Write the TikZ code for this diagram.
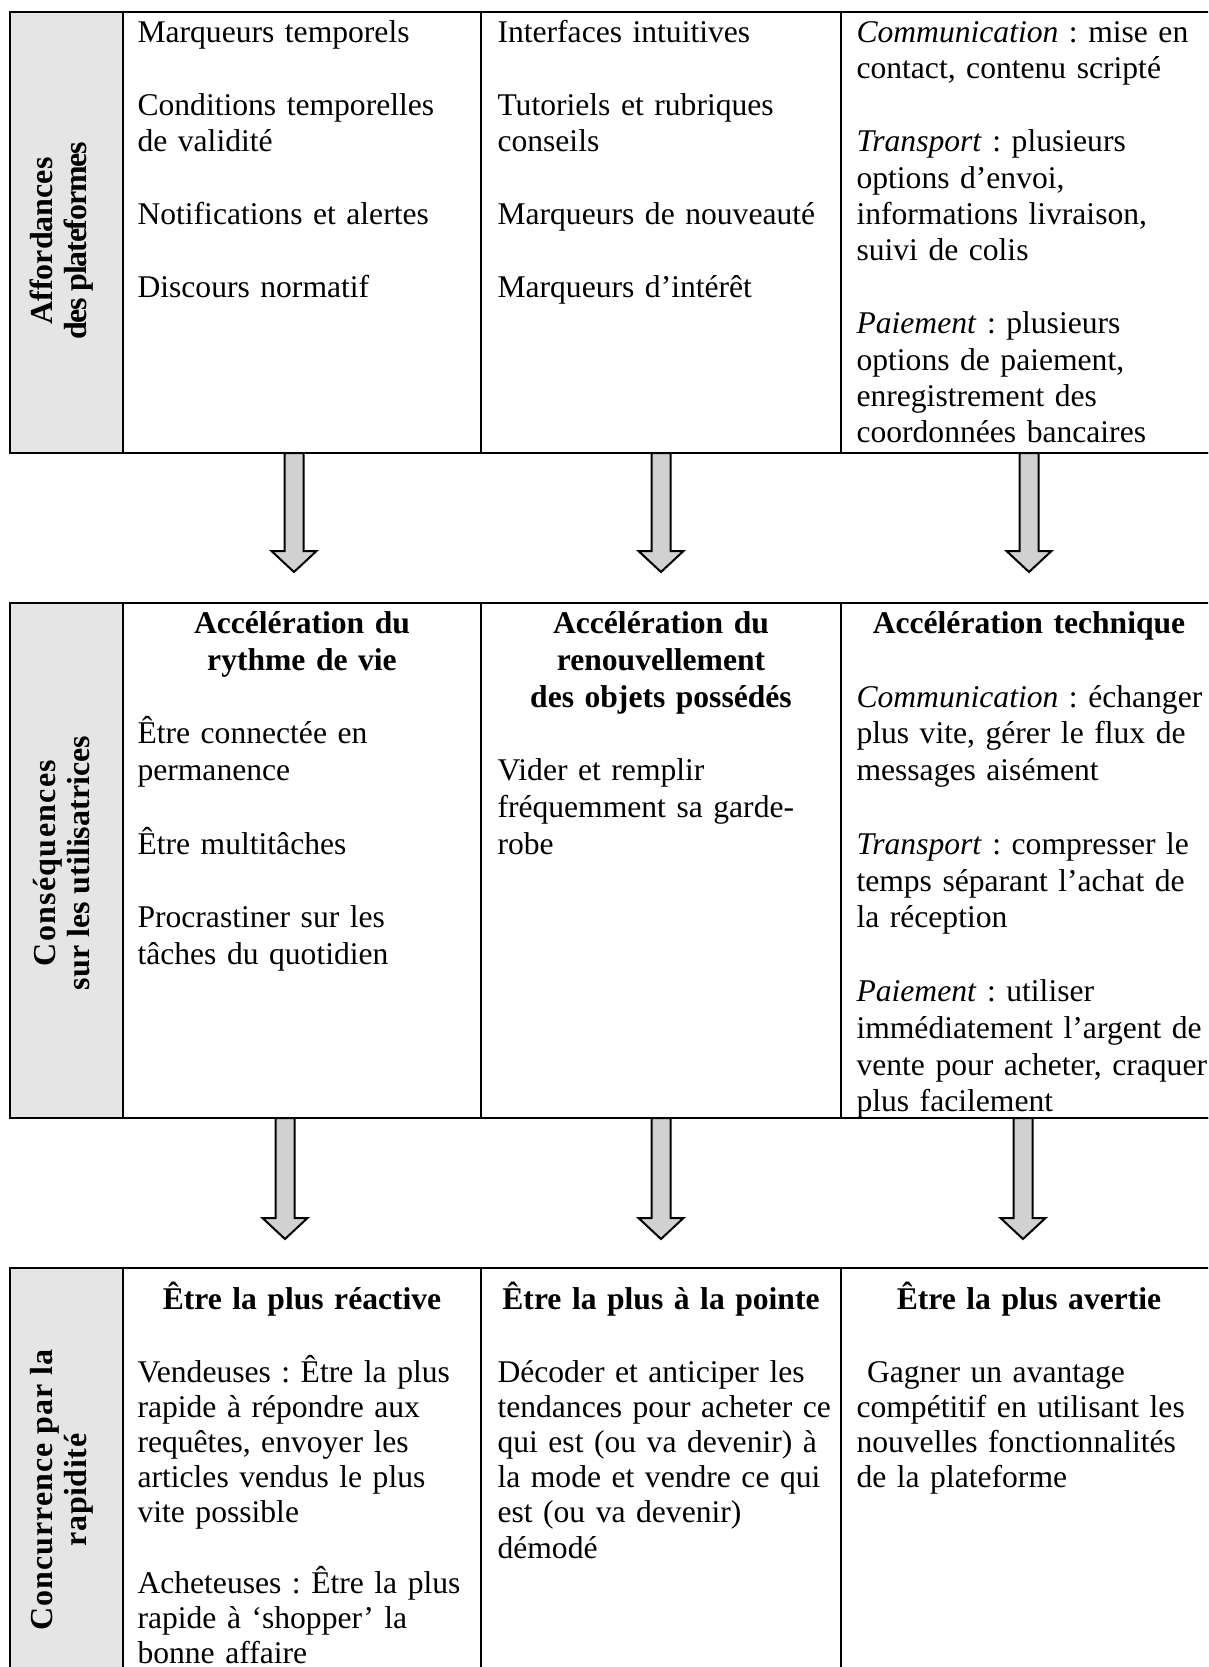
\documentclass[tikz,border=0pt]{standalone}
\usepackage{fontspec}
\setmainfont{Liberation Serif}
\usetikzlibrary{calc}
\newcommand\tp{\rule{0pt}{12pt}}
\newcommand\blank{\\[\baselineskip]}
\newcommand\lsp[2]{{\addfontfeature{LetterSpace=#1}#2}}
\frenchspacing
\begin{document}
\begin{tikzpicture}[x=0.375pt,y=-0.375pt,
  tline/.style={line width=0.95pt},
  labfill/.style={fill=gray!20},
  body/.style={anchor=north west, inner sep=0pt, align=left, text width=160pt},
  head/.style={anchor=north, inner sep=0pt, align=center, text width=150pt, execute at begin node=\bfseries},
  lab/.style={rotate=90, inner sep=0pt, align=center, font=\bfseries\fontsize{12pt}{12.75pt}\selectfont},
  tA/.style={font=\fontsize{11.85pt}{13.65pt}\selectfont},
  tB/.style={font=\fontsize{11.85pt}{13.8pt}\selectfont},
  tC/.style={font=\fontsize{11.85pt}{13.2pt}\selectfont},
  blockarrow/.style={draw=black, line width=0.75pt, fill=black!18, line join=miter}
]
\useasboundingbox (0,0) rectangle (1208,1667);
\clip (0,0) rectangle (1208,1667);

% ---------- Table 1 ----------
\fill[labfill] (10,12) rectangle (123,453);
\draw[tline] (1230,12) -- (10,12) -- (10,453) -- (1230,453);
\draw[tline] (123,12) -- (123,453);
\draw[tline] (481,12) -- (481,453);
\draw[tline] (841,12) -- (841,453);

% ---------- Table 2 ----------
\fill[labfill] (10,603) rectangle (123,1118);
\draw[tline] (1230,603) -- (10,603) -- (10,1118) -- (1230,1118);
\draw[tline] (123,603) -- (123,1118);
\draw[tline] (481,603) -- (481,1118);
\draw[tline] (841,603) -- (841,1118);

% ---------- Table 3 ----------
\fill[labfill] (10,1268) rectangle (123,1720);
\draw[tline] (1230,1268) -- (10,1268) -- (10,1720);
\draw[tline] (123,1268) -- (123,1720);
\draw[tline] (481,1268) -- (481,1720);
\draw[tline] (841,1268) -- (841,1720);

% ---------- Arrows ----------
\foreach \ax/\atop/\abase/\atip [count=\i] in {294/453/551/572, 661/453/551/572, 1029/453/551/572,
                                               285/1118/1218/1239, 661/1118/1218/1239, 1023/1118/1218/1239}{
  \coordinate (arrtop\i) at (\ax,\atop);
  \coordinate (arrtip\i) at (\ax,\atip);
  \draw[blockarrow] ($(arrtop\i)+(-9.5,0)$) -- (\ax-9.5,\abase) -- (\ax-22.5,\abase) -- (arrtip\i)
        -- (\ax+22.5,\abase) -- (\ax+9.5,\abase) -- ($(arrtop\i)+(9.5,0)$) -- cycle;
}
\draw[tline] (10,453) -- (1230,453);
\draw[tline] (10,1118) -- (1230,1118);

% ---------- Labels ----------
\node[lab] (lab1) at (62,241) {Affordances\\\lsp{-4}{des plateformes}};
\node[lab] (lab2) at (62,863) {\lsp{4}{Conséquences}\\sur les utilisatrices};
\node[lab] (lab3) at (62,1490) {\lsp{3}{Concurrence par la}\\\lsp{2}{rapidité}};

% ---------- Table 1 texts ----------
\node[body,tA] (t1c1) at (137,10) {\tp Marqueurs temporels\blank
Conditions temporelles\\
de validité\blank
Notifications et alertes\blank
Discours normatif};
\node[body,tA] (t1c2) at (497,10) {\tp Interfaces intuitives\blank
Tutoriels et rubriques\\
conseils\blank
Marqueurs de nouveauté\blank
Marqueurs d’intérêt};
\node[body,tA] (t1c3) at (856,10) {\tp\textit{Communication} : mise en\\
contact, contenu scripté\blank
\textit{Transport} : plusieurs\\
options d’envoi,\\
informations livraison,\\
suivi de colis\blank
\textit{Paiement} : plusieurs\\
options de paiement,\\
enregistrement des\\
coordonnées bancaires};

% ---------- Table 2 texts ----------
\node[head,tB] (h2c1) at (302,601) {\tp Accélération du\\rythme de vie};
\node[head,tB] (h2c2) at (661,601) {\tp Accélération du\\renouvellement\\des objets possédés};
\node[head,tB] (h2c3) at (1029,601) {\tp Accélération technique};
\node[body,tB] (t2c1) at (137,711.4) {\tp Être connectée en\\
permanence\blank
Être multitâches\blank
Procrastiner sur les\\
tâches du quotidien};
\node[body,tB] (t2c2) at (497,748.2) {\tp Vider et remplir\\
fréquemment sa garde-\\
robe};
\node[body,tB] (t2c3) at (856,674.6) {\tp\textit{Communication} : échanger\\
plus vite, gérer le flux de\\
messages aisément\blank
\textit{Transport} : compresser le\\
temps séparant l’achat de\\
la réception\blank
\textit{Paiement} : utiliser\\
immédiatement l’argent de\\
vente pour acheter, craquer\\
plus facilement};

% ---------- Table 3 texts ----------
\node[head,tC] (h3c1) at (302,1277) {\tp Être la plus réactive};
\node[head,tC] (h3c2) at (661,1277) {\tp Être la plus à la pointe};
\node[head,tC] (h3c3) at (1029,1277) {\tp Être la plus avertie};
\node[body,tC] (t3c1) at (137,1349.5) {\tp Vendeuses : Être la plus\\
rapide à répondre aux\\
requêtes, envoyer les\\
articles vendus le plus\\
vite possible\blank
Acheteuses : Être la plus\\
rapide à ‘shopper’ la\\
bonne affaire};
\node[body,tC] (t3c2) at (497,1349.5) {\tp Décoder et anticiper les\\
tendances pour acheter ce\\
qui est (ou va devenir) à\\
la mode et vendre ce qui\\
est (ou va devenir)\\
démodé};
\node[body,tC] (t3c3) at (856,1349.5) {\tp\ Gagner un avantage\\
compétitif en utilisant les\\
nouvelles fonctionnalités\\
de la plateforme};
\end{tikzpicture}
\end{document}
